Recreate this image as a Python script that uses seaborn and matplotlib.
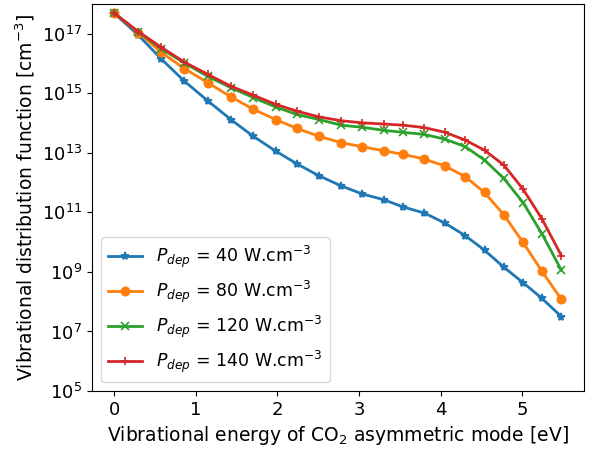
import numpy as np
import pandas as pd
import seaborn as sns
import matplotlib.pyplot as plt
from matplotlib.ticker import NullLocator

# vibrational level energies [eV]
energy = [0.0, 0.297, 0.575, 0.860, 1.146, 1.430, 1.703, 1.980, 2.241, 2.510, 2.784,
          3.040, 3.301, 3.545, 3.802, 4.055, 4.303, 4.539, 4.776, 5.012, 5.244, 5.481]

# log10 of VDF [cm^-3] for each deposited power
log_p40 = [17.69, 16.95, 16.16, 15.41, 14.75, 14.12, 13.56, 13.06, 12.63, 12.23, 11.89,
           11.62, 11.43, 11.18, 10.98, 10.64, 10.22, 9.73, 9.16, 8.64, 8.11, 7.50]
log_p80 = [17.69, 17.04, 16.38, 15.83, 15.36, 14.88, 14.47, 14.12, 13.82, 13.56, 13.34,
           13.21, 13.07, 12.95, 12.79, 12.56, 12.20, 11.67, 10.92, 9.99, 9.02, 8.08]
log_p120 = [17.69, 17.06, 16.50, 16.02, 15.57, 15.19, 14.86, 14.54, 14.29, 14.12, 13.93,
            13.86, 13.76, 13.69, 13.62, 13.46, 13.21, 12.76, 12.14, 11.33, 10.28, 9.06]
log_p140 = [17.69, 17.07, 16.55, 16.05, 15.64, 15.24, 14.94, 14.63, 14.40, 14.21, 14.08,
            14.01, 13.97, 13.93, 13.85, 13.69, 13.43, 13.09, 12.59, 11.78, 10.78, 9.55]

labels = [r'$P_{dep}$ = 40 W.cm$^{-3}$', r'$P_{dep}$ = 80 W.cm$^{-3}$',
          r'$P_{dep}$ = 120 W.cm$^{-3}$', r'$P_{dep}$ = 140 W.cm$^{-3}$']
markers = ['*', 'o', 'x', '+']
colors = ['#1f77b4', '#ff7f0e', '#2ca02c', '#d62728']

fig, ax = plt.subplots(figsize=(5.89, 4.51), dpi=100)
fig.subplots_adjust(left=0.156, right=0.991, top=0.991, bottom=0.133)

for logs, lab, mk, c in zip([log_p40, log_p80, log_p120, log_p140], labels, markers, colors):
    df = pd.DataFrame({"E": energy, "f": 10 ** np.array(logs)})
    sns.lineplot(data=df, x="E", y="f", marker=mk, color=c, label=lab, ax=ax,
                 linewidth=2, markersize=6, markeredgecolor=c, markeredgewidth=1.2)

ax.set_yscale("log")
ax.set_ylim(1e5, 1e18)
ax.set_yticks([10.0 ** k for k in range(5, 18, 2)])
ax.yaxis.set_minor_locator(NullLocator())
ax.tick_params(labelsize=13)
ax.set_xlabel(r'Vibrational energy of CO$_2$ asymmetric mode [eV]', fontsize=13.5)
ax.set_ylabel(r'Vibrational distribution function [cm$^{-3}$]', fontsize=13.5)
ax.legend(loc="lower left", fontsize=12.5)

plt.savefig("out.png", dpi=100)
plt.close()
